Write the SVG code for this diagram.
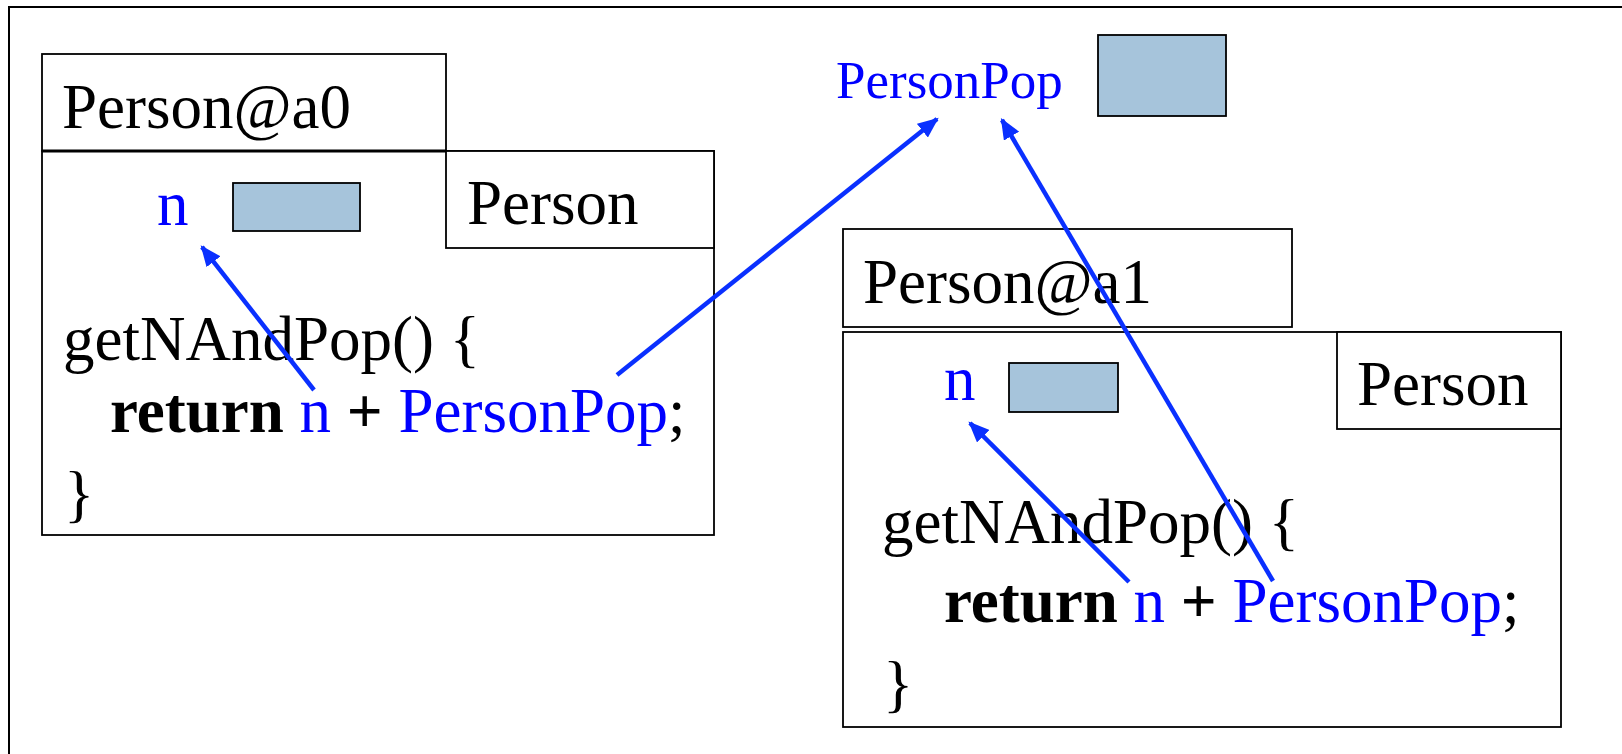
<svg xmlns="http://www.w3.org/2000/svg" width="1622" height="754" viewBox="0 0 1622 754">
<style>
.box{fill:#fff;stroke:#000;stroke-width:1.8}
.val{fill:#A6C4DB;stroke:#000;stroke-width:1.8}
.t{font-family:"Liberation Serif","Times New Roman",serif;font-size:63px;fill:#000}
.b{fill:#0000FF}
.k{font-weight:bold}
.arr{stroke:#0A30FF;stroke-width:4.5;fill:none;marker-end:url(#ah)}
</style>
<defs>
<marker id="ah" markerUnits="userSpaceOnUse" markerWidth="22" markerHeight="18" refX="17" refY="8" orient="auto" viewBox="0 0 20 16">
<path d="M0,0 L19,8 L0,16 Z" fill="#0A30FF"/>
</marker>
</defs>
<rect x="0" y="0" width="1622" height="754" fill="#fff"/>
<rect x="9" y="7" width="1700" height="800" fill="none" stroke="#000" stroke-width="2"/>

<g id="personpop">
<text class="t b" x="836" y="98" style="font-size:53px">PersonPop</text>
<rect class="val" x="1098" y="35" width="128" height="81"/>
</g>

<g id="person-a0">
<rect class="box" x="42" y="54" width="404" height="97"/>
<text class="t" x="62" y="128">Person@a0</text>
<rect class="box" x="42" y="151" width="672" height="384"/>
<line x1="42" y1="151" x2="446" y2="151" stroke="#000" stroke-width="3"/>
<rect class="box" x="446" y="151" width="268" height="97"/>
<text class="t" x="467" y="224">Person</text>
<text class="t b" x="157" y="225">n</text>
<rect class="val" x="233" y="183" width="127" height="48"/>
<text class="t" x="63" y="360">getNAndPop() {</text>
<text class="t" x="110" y="432"><tspan class="k">return</tspan> <tspan class="b">n</tspan> <tspan class="k">+</tspan> <tspan class="b">PersonPop</tspan>;</text>
<text class="t" x="64" y="515">}</text>
</g>

<g id="person-a1">
<rect class="box" x="843" y="229" width="449" height="98"/>
<text class="t" x="863" y="303">Person@a1</text>
<rect class="box" x="843" y="332" width="718" height="395"/>
<rect class="box" x="1337" y="332" width="224" height="97"/>
<text class="t" x="1357" y="405">Person</text>
<text class="t b" x="944" y="400">n</text>
<rect class="val" x="1009" y="363" width="109" height="49"/>
<text class="t" x="882" y="543">getNAndPop() {</text>
<text class="t" x="944" y="622"><tspan class="k">return</tspan> <tspan class="b">n</tspan> <tspan class="k">+</tspan> <tspan class="b">PersonPop</tspan>;</text>
<text class="t" x="883" y="705">}</text>
</g>

<g id="connectors">
<line class="arr" x1="314" y1="390" x2="202" y2="247"/>
<line class="arr" x1="617" y1="375" x2="937" y2="119"/>
<line class="arr" x1="1273" y1="581" x2="1002" y2="120"/>
<line class="arr" x1="1129" y1="582" x2="970" y2="423"/>
</g>
</svg>
